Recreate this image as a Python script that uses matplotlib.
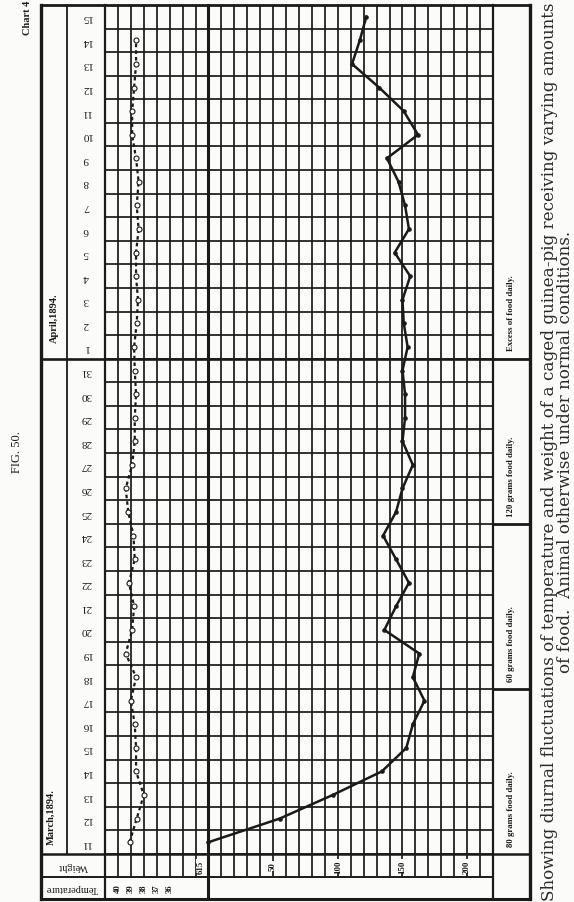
import matplotlib
matplotlib.use('Agg')
import matplotlib.pyplot as plt
from matplotlib.transforms import blended_transform_factory

# ---------------- data ----------------
march_days = list(range(11, 32))
april_days = list(range(1, 16))
day_labels = [str(d) for d in march_days] + [str(d) for d in april_days]

# weight above 615 g (Mar 11 .. Apr 15)
weight_gain = [0, 55, 96, 134, 153, 158, 167, 158, 163, 136, 145, 155, 145, 135,
               145, 150, 158, 150, 152, 152, 150,
               154, 151, 150, 156, 144, 155, 152, 147, 138, 162, 151, 132, 111, 117, 122]

# rectal temperature, deg C (Mar 11 .. Apr 14)
temperature = [39.1, 38.55, 38.0, 38.6, 38.6, 38.7, 39.0, 38.6, 39.4, 38.9, 38.75,
               39.15, 38.7, 38.8, 39.2, 39.4, 38.9, 38.7, 38.7, 38.6, 38.7,
               38.75, 38.55, 38.45, 38.6, 38.6, 38.4, 38.55, 38.4, 38.6, 38.9,
               38.9, 38.75, 38.6, 38.6]

weight_ticks = [0, 50, 100, 150, 200]
weight_tick_labels = ['615', '50', '100', '150', '200']
temp_ticks = [40, 39, 38, 37, 36]

food_labels = ['80 grams food daily.', '60 grams food daily.',
               '120 grams food daily.', 'Excess of food daily.']
food_first_day = [0, 7, 14, 21]

month_labels = ['March,1894.', 'April,1894.']

caption1 = ('Showing diurnal fluctuations of temperature and weight of a caged '
            'guinea-pig receiving varying amounts')
caption2 = 'of food.  Animal otherwise under normal conditions.'

# ---------------- style ----------------
W, H, DPI = 574, 903, 100
INK = '#1a1a1a'
BG = '#fbfbf9'
SERIF = ['Liberation Serif', 'DejaVu Serif']

fig = plt.figure(figsize=(W / DPI, H / DPI), dpi=DPI)
fig.patch.set_facecolor(BG)

bg = fig.add_axes([0, 0, 1, 1])
bg.set_xlim(0, W)
bg.set_ylim(H, 0)
bg.axis('off')

# grid box in pixels
GL, GR, GT, GB = 105, 493, 6, 878
ROW = 23.583
ax = fig.add_axes([GL / W, 1 - GB / H, (GR - GL) / W, (GB - GT) / H])
n_days = len(day_labels)
ax.set_xlim(-80, 220)
ax.set_ylim(-0.5 - (GB - 855) / ROW, n_days - 0.5)
ax.axis('off')
ax.patch.set_alpha(0)

axT = ax.twiny()
axT.set_xlim(41, 11)
axT.axis('off')
axT.patch.set_alpha(0)

def py(d):
    return 855 - ROW * (d + 0.5)

# grid lines
ylo = ax.get_ylim()[0]
for xv in range(-70, 220, 10):
    if xv == 0:
        continue
    ax.plot([xv, xv], [ylo, n_days - 0.5], color=INK, lw=1.25, solid_capstyle='butt')
for k in range(0, n_days):
    ax.plot([-80, 220], [k - 0.5, k - 0.5], color=INK, lw=1.25)

# structural frame lines (pixels)
def L(x0, y0, x1, y1, lw=1.3):
    bg.plot([x0, x1], [y0, y1], color=INK, lw=lw, solid_capstyle='projecting')

L(41, 6, 530, 6, 2.0)          # top
L(41, 900, 530, 900, 2.2)      # bottom
L(41, 6, 41, 900, 2.4)         # left
L(530, 6, 530, 900, 2.4)       # right
L(67, 6, 67, 855, 1.3)         # month | dates
L(105, 6, 105, 900, 1.6)       # dates | grid
L(208, 6, 208, 900, 2.2)       # 615 line
L(493, 6, 493, 900, 1.6)       # grid | food
L(41, 855, 530, 855, 1.8)      # date rows | weight row
L(41, 878, 493, 878, 1.4)      # weight row | temperature row
L(41, py(20.5), 493, py(20.5), 1.9)  # month boundary
for d in food_first_day[1:]:
    L(493, py(d - 0.5), 530, py(d - 0.5), 2.0)

# date labels
tr = blended_transform_factory(bg.transData, ax.transData)
for i, lab in enumerate(day_labels):
    ax.text(86, i, lab, transform=tr, rotation=180, ha='center', va='center',
            fontsize=8, family=SERIF, color=INK)

# month labels
bg.text(51, 817, month_labels[0], rotation=90, ha='center', va='center',
        fontsize=7.5, family=SERIF, weight='bold', color=INK)
bg.text(54, 318, month_labels[1], rotation=90, ha='center', va='center',
        fontsize=7.5, family=SERIF, weight='bold', color=INK)

# food labels
for lab, d in zip(food_labels, food_first_day):
    ax.text(511, d - 0.5 + 0.35, lab, transform=tr, rotation=90, ha='center',
            va='bottom', fontsize=6.3, family=SERIF, weight='bold', color=INK)

# row headers
bg.text(73, 867, 'Weight', rotation=180, ha='center', va='center',
        fontsize=7.5, family=SERIF, color=INK)
bg.text(72, 889, 'Temperature', rotation=180, ha='center', va='center',
        fontsize=7.5, family=SERIF, color=INK)

# weight tick labels
for v, lab in zip(weight_ticks, weight_tick_labels):
    xv = v - 6 if v == 0 else v
    ax.text(xv, -0.5 - 12 / ROW, lab, rotation=90, ha='center', va='center',
            fontsize=6.3, family=SERIF, weight='bold', color=INK, clip_on=False,
            bbox=dict(boxstyle='square,pad=0.05', fc=BG, ec='none'))

# temperature tick labels
for t in temp_ticks:
    axT.text(t, -0.5 - 34 / ROW, str(t), rotation=90, ha='center', va='center',
             fontsize=6.3, family=SERIF, weight='bold', color=INK, clip_on=False)

# weight trace
days = list(range(n_days))
ax.plot(weight_gain, days, color=INK, lw=1.8, marker='o', ms=2.3,
        mfc=INK, mec=INK, zorder=5, solid_joinstyle='miter')

# temperature trace
axT.plot(temperature, days[:len(temperature)], color=INK, lw=1.6,
         linestyle=(0, (1.6, 1.4)), marker='o', ms=3.6, mfc=BG, mec=INK,
         mew=0.8, zorder=5)

# side texts
bg.text(27, 18, 'Chart 4', rotation=90, ha='center', va='center',
        fontsize=7.5, family=SERIF, weight='bold', color=INK)
bg.text(17, 452, 'FIG. 50.', rotation=90, ha='center', va='center',
        fontsize=9, family=SERIF, color=INK)

t1 = bg.text(550, 452, caption1, rotation=90, ha='center', va='center',
             fontsize=12, family='DejaVu Serif', color='#2a2a2a')
fig.canvas.draw()
ext = t1.get_window_extent(fig.canvas.get_renderer())
fs = 12 * 893 / ext.height
t1.set_fontsize(fs)
bg.text(566, 452, caption2, rotation=90, ha='center', va='center',
        fontsize=fs, family='DejaVu Serif', color='#2a2a2a')

fig.savefig('out.png', dpi=DPI, facecolor=BG)
